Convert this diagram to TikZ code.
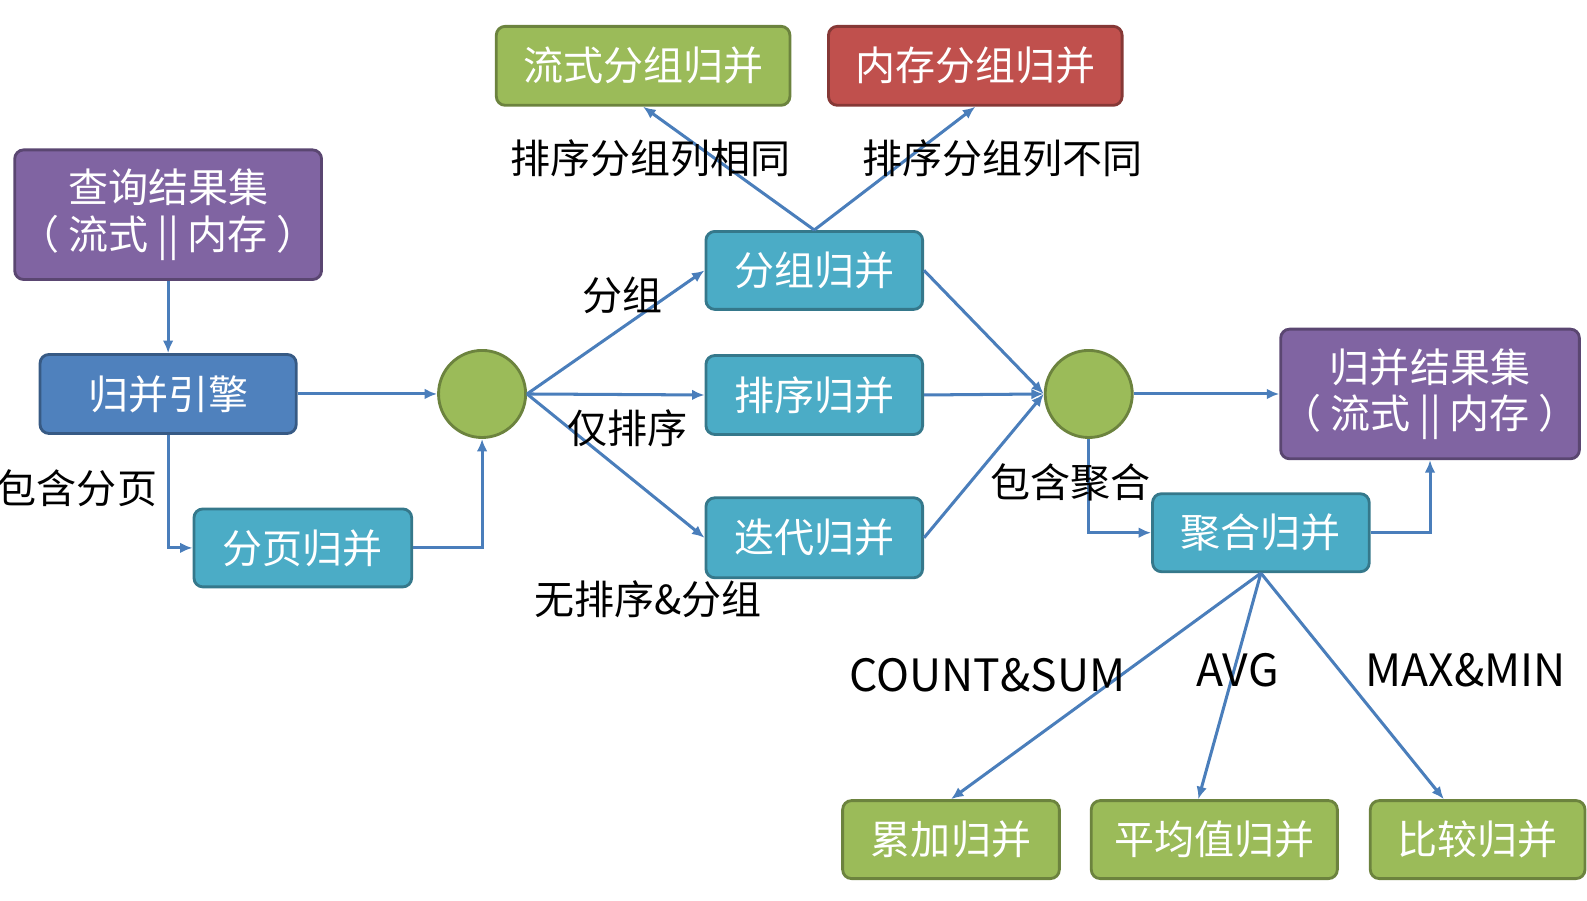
\documentclass[tikz,border=0pt]{standalone}
\usepackage{fontspec}
\setmainfont{Noto Sans CJK SC}
\usetikzlibrary{arrows.meta,positioning}
\definecolor{boxpurple}{HTML}{8064A2}
\definecolor{boxblue}{HTML}{4F81BD}
\definecolor{boxteal}{HTML}{4BACC6}
\definecolor{boxgreen}{HTML}{9BBB59}
\definecolor{boxred}{HTML}{C0504D}
\definecolor{linkblue}{HTML}{4A7EBB}
\begin{document}%
\begin{tikzpicture}[x=0.02cm,y=-0.02cm,
    box/.style={draw=#1!70!black,fill=#1,line width=1.6pt,rounded corners=5pt,
      text=white,font=\fontsize{22.5}{26}\selectfont,align=center,inner sep=0pt},
    hub/.style={circle,draw=boxgreen!70!black,fill=boxgreen,line width=1.6pt,minimum size=1.72cm,inner sep=0pt},
    link/.style={draw=linkblue,line width=1.7pt,-{Latex[length=7pt,width=6pt]}},
    lbl/.style={font=\fontsize{22.5}{26}\selectfont,text=black,inner sep=0pt},
    latin/.style={lbl,font=\fontsize{25}{28}\selectfont}]
    \useasboundingbox (0,0) rectangle (1567,889);
    \node [box=boxpurple,minimum width=6.06cm,minimum height=2.56cm] (query) at (166,212) {查询结果集\\（ 流式 || 内存 ）};
    \node [box=boxblue,minimum width=5.06cm,minimum height=1.56cm] (engine) at (166,389) {归并引擎};
    \node [box=boxteal,minimum width=4.3cm,minimum height=1.54cm] (paging) at (299,541) {分页归并};
    \node [hub] (hubl) at (476,389) {};
    \node [box=boxteal,minimum width=4.28cm,minimum height=1.54cm] (group) at (804,267) {分组归并};
    \node [box=boxteal,minimum width=4.28cm,minimum height=1.56cm] (sort) at (804,390) {排序归并};
    \node [box=boxteal,minimum width=4.28cm,minimum height=1.58cm] (iter) at (804,531) {迭代归并};
    \node [box=boxgreen,minimum width=5.8cm,minimum height=1.56cm] (stream) at (635,65) {流式分组归并};
    \node [box=boxred,minimum width=5.8cm,minimum height=1.56cm] (memory) at (963,65) {内存分组归并};
    \node [hub] (hubr) at (1075,389) {};
    \node [box=boxpurple,minimum width=5.9cm,minimum height=2.56cm] (result) at (1412,389) {归并结果集\\（ 流式 || 内存 ）};
    \node [box=boxteal,minimum width=4.28cm,minimum height=1.54cm] (agg) at (1245,526) {聚合归并};
    \node [box=boxgreen,minimum width=4.28cm,minimum height=1.54cm] (accum) at (939,829) {累加归并};
    \node [box=boxgreen,minimum width=4.86cm,minimum height=1.54cm] (avg) at (1199,829) {平均值归并};
    \node [box=boxgreen,minimum width=4.24cm,minimum height=1.54cm] (cmp) at (1459,829) {比较归并};
    % left part
    \draw [link] (query) -- (engine);
    \draw [link] (engine) -- (hubl);
    \draw [link] (engine.south) |- (paging.west);
    \draw [link] (paging.east) -| (hubl.south);
    \node [lbl] (lpaging) at (76,482) {包含分页};
    % middle part
    \draw [link] (hubl.east) -- (group.west);
    \draw [link] (hubl.east) -- (sort.west);
    \draw [link] (hubl.east) -- (iter.west);
    \node [lbl] (lgroup) at (615,292) {分组};
    \node [lbl] (lsort) at (620,423) {仅排序};
    \node [lbl] (liter) at (640,592) {无排序\&分组};
    \draw [link] (group.north) -- (stream.south);
    \draw [link] (group.north) -- (memory.south);
    \node [lbl] (lsame) at (642,156) {排序分组列相同};
    \node [lbl] (ldiff) at (990,156) {排序分组列不同};
    \draw [link] (group.east) -- (hubr.west);
    \draw [link] (sort.east) -- (hubr.west);
    \draw [link] (iter.east) -- (hubr.west);
    % right part
    \draw [link] (hubr) -- (result);
    \draw [link] (hubr.south) |- (agg.west);
    \draw [link] (agg.east) -| (result.south);
    \node [lbl] (lagg) at (1057,476) {包含聚合};
    \draw [link] (agg.south) -- (accum.north);
    \draw [link] (agg.south) -- ([xshift=-9]avg.north);
    \draw [link] (agg.south) -- ([xshift=-19]cmp.north);
    \node [latin] (lsum) at (975,667) {COUNT\&SUM};
    \node [latin] (lavg) at (1222,662) {AVG};
    \node [latin] (lmax) at (1447,662) {MAX\&MIN};
\end{tikzpicture}%
\end{document}
